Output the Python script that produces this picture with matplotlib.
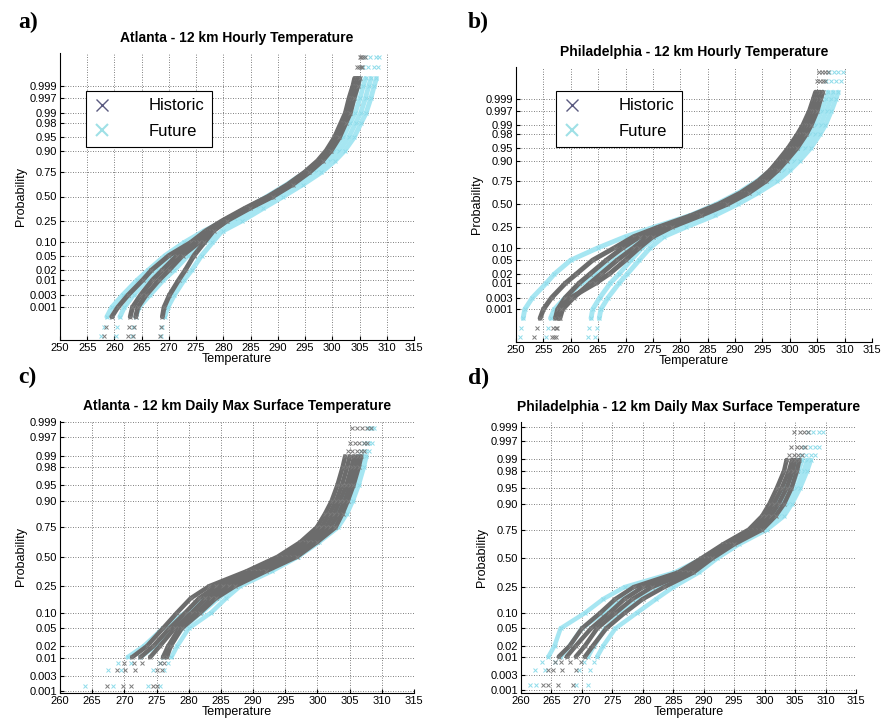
import statistics
import matplotlib
matplotlib.use("Agg")
import matplotlib.pyplot as plt
from matplotlib.lines import Line2D

# probability levels the curves were read at
P_HOURLY = [0.00005, 0.00014, 0.0004, 0.001, 0.003, 0.01, 0.02, 0.05, 0.10, 0.17, 0.25,
            0.37, 0.50, 0.63, 0.75, 0.84, 0.90, 0.95, 0.98, 0.99, 0.997, 0.999, 0.9995,
            0.99985, 0.99995]
P_DAILY = [0.0015, 0.0045, 0.0075, 0.0105, 0.02, 0.05, 0.10, 0.17, 0.25, 0.37, 0.50,
           0.63, 0.75, 0.84, 0.90, 0.95, 0.98, 0.9895, 0.9925, 0.9955, 0.9985]

prob_ticks = [0.001, 0.003, 0.01, 0.02, 0.05, 0.10, 0.25, 0.50, 0.75, 0.90,
              0.95, 0.98, 0.99, 0.997, 0.999]
prob_labels = ["0.001", "0.003", "0.01", "0.02", "0.05", "0.10", "0.25", "0.50",
               "0.75", "0.90", "0.95", "0.98", "0.99", "0.997", "0.999"]

# a) Atlanta hourly (temperature in K at P_HOURLY, one list per ensemble member)
atl_hr_hist = [
    [258.0, 258.5, 259.5, 260.6, 262.5, 265.2, 266.8, 270.0, 274.0, 276.8, 279.8, 283.9, 288.2, 291.8, 294.9, 297.3, 298.9, 300.4, 301.6, 302.4, 303.1, 303.8, 304.1, 304.6, 305.0],
    [262.4, 262.6, 262.9, 263.3, 264.8, 267.0, 268.8, 271.5, 275.0, 277.3, 280.1, 284.2, 288.5, 292.1, 295.2, 297.6, 299.2, 300.7, 301.9, 302.7, 303.4, 304.1, 304.4, 304.9, 305.3],
    [263.4, 263.6, 263.9, 264.3, 265.8, 268.2, 270.0, 272.5, 275.5, 277.7, 280.4, 284.5, 288.8, 292.4, 295.5, 297.9, 299.5, 301.0, 302.2, 303.0, 303.7, 304.4, 304.7, 305.2, 305.6],
    [268.3, 268.5, 268.8, 269.1, 270.1, 271.8, 273.0, 274.6, 276.5, 278.2, 280.7, 284.8, 289.1, 292.7, 295.8, 298.2, 299.8, 301.3, 302.5, 303.3, 304.0, 304.7, 305.0, 305.5, 306.0],
]
atl_hr_fut = [
    [257.5, 258.0, 258.6, 259.5, 261.5, 264.2, 266.2, 269.3, 272.8, 276.5, 280.3, 284.3, 288.0, 291.6, 295.0, 297.5, 299.3, 301.0, 302.3, 303.2, 304.1, 304.7, 305.1, 305.6, 306.0],
    [260.3, 260.5, 261.0, 261.8, 263.5, 266.0, 268.0, 271.0, 274.3, 277.5, 281.3, 285.3, 289.0, 292.6, 296.0, 298.5, 300.3, 302.0, 303.3, 304.2, 305.1, 305.7, 306.1, 306.6, 307.0],
    [268.6, 268.8, 269.2, 269.8, 271.0, 272.8, 274.2, 276.0, 278.0, 279.8, 282.5, 286.3, 290.0, 293.6, 297.0, 299.5, 301.3, 303.0, 304.3, 305.2, 306.1, 306.7, 307.1, 307.6, 308.0],
    [263.2, 263.4, 263.9, 264.5, 266.5, 269.0, 271.0, 273.5, 276.5, 280.0, 283.5, 287.3, 291.0, 294.6, 298.0, 300.5, 302.3, 304.0, 305.3, 306.2, 307.1, 307.7, 308.1, 308.4, 308.6],
]

# b) Philadelphia hourly
phl_hr_hist = [
    [253.3, 253.8, 254.4, 255.0, 256.5, 259.0, 261.0, 264.0, 268.0, 271.5, 276.0, 282.0, 287.0, 291.0, 294.2, 296.4, 297.9, 299.7, 301.4, 302.4, 303.6, 304.3, 304.7, 305.0, 305.3],
    [256.5, 256.8, 257.2, 257.6, 259.0, 261.5, 263.5, 266.5, 269.5, 272.6, 276.8, 282.6, 287.6, 291.5, 294.7, 296.9, 298.4, 300.3, 302.0, 302.9, 304.0, 304.7, 305.1, 305.5, 305.9],
    [257.3, 257.5, 258.0, 258.5, 260.5, 263.5, 265.5, 268.5, 271.5, 274.0, 277.6, 283.2, 288.1, 292.0, 295.2, 297.4, 298.9, 300.8, 302.5, 303.4, 304.5, 305.1, 305.5, 306.0, 306.4],
    [257.0, 257.3, 257.8, 258.2, 260.0, 264.5, 267.0, 270.0, 272.5, 275.0, 278.4, 283.8, 288.6, 292.5, 295.6, 297.8, 299.4, 301.3, 303.0, 303.9, 305.0, 305.6, 306.0, 306.5, 306.9],
]
phl_hr_fut = [
    [250.8, 251.0, 251.3, 251.6, 253.0, 255.5, 257.0, 260.0, 265.0, 270.0, 275.2, 281.8, 286.6, 290.6, 294.0, 296.6, 298.4, 300.6, 302.5, 303.6, 304.8, 305.6, 306.0, 306.6, 307.2],
    [255.5, 255.8, 256.3, 257.0, 259.0, 262.0, 264.5, 268.0, 271.0, 274.0, 277.8, 283.6, 288.3, 292.2, 295.5, 298.0, 299.8, 301.8, 303.6, 304.7, 305.8, 306.6, 307.0, 307.5, 308.0],
    [263.2, 263.4, 263.7, 264.0, 265.3, 267.2, 268.8, 271.0, 273.0, 275.6, 279.4, 285.0, 289.5, 293.3, 296.6, 299.0, 300.8, 302.8, 304.6, 305.6, 306.7, 307.5, 307.9, 308.4, 308.8],
    [264.5, 264.8, 265.2, 265.5, 266.8, 268.8, 270.3, 272.5, 274.5, 277.0, 281.0, 286.3, 290.5, 294.2, 297.6, 300.0, 301.8, 303.8, 305.5, 306.5, 307.6, 308.4, 308.8, 309.3, 309.7],
]

# c) Atlanta daily max (temperature in K at P_DAILY)
atl_dm_hist = [
    [267.3, 268.8, 270.0, 271.2, 273.5, 276.0, 278.2, 280.3, 283.2, 289.0, 293.8, 297.3, 299.9, 301.2, 302.2, 303.1, 303.9, 304.3, 304.7, 305.0, 305.3],
    [269.8, 270.1, 271.5, 272.5, 274.5, 277.0, 279.5, 281.6, 284.3, 289.8, 294.6, 298.0, 300.6, 301.9, 302.9, 303.8, 304.6, 305.0, 305.4, 305.8, 306.2],
    [271.0, 271.7, 272.8, 274.0, 275.5, 277.8, 280.5, 282.6, 285.3, 290.6, 295.4, 298.6, 301.3, 302.6, 303.5, 304.5, 305.3, 305.7, 306.1, 306.5, 306.9],
    [274.5, 275.0, 275.5, 276.0, 276.8, 278.5, 281.3, 283.5, 286.3, 291.3, 296.1, 299.3, 302.0, 303.3, 304.2, 305.1, 305.9, 306.3, 306.7, 307.2, 307.7],
    [275.0, 275.8, 276.2, 276.6, 277.2, 278.9, 281.8, 284.2, 287.2, 292.0, 296.8, 299.9, 302.8, 303.9, 304.7, 305.6, 306.4, 306.8, 307.2, 307.7, 308.3],
]
atl_dm_fut = [
    [263.9, 267.5, 269.0, 270.5, 273.0, 276.0, 279.5, 282.6, 285.6, 290.6, 295.2, 298.4, 301.4, 302.8, 303.9, 304.9, 305.9, 306.3, 306.8, 307.3, 307.8],
    [268.3, 269.5, 271.0, 272.5, 274.8, 277.5, 280.5, 283.4, 286.4, 291.4, 295.8, 299.0, 302.0, 303.4, 304.4, 305.4, 306.3, 306.7, 307.2, 307.7, 308.2],
    [273.7, 274.5, 275.5, 276.0, 277.0, 279.0, 282.0, 284.6, 287.2, 292.2, 296.4, 299.6, 302.6, 304.0, 305.0, 305.9, 306.8, 307.2, 307.6, 308.0, 308.5],
    [275.5, 276.2, 276.8, 277.3, 278.2, 280.0, 283.5, 285.8, 288.0, 292.9, 297.0, 300.2, 303.2, 304.6, 305.5, 306.4, 307.2, 307.6, 308.0, 308.4, 308.8],
]

# d) Philadelphia daily max
phl_dm_hist = [
    [263.6, 264.5, 265.5, 266.2, 268.0, 270.0, 273.0, 275.5, 278.5, 285.8, 289.6, 293.2, 297.4, 299.6, 300.8, 302.0, 303.2, 303.6, 304.0, 304.4, 304.8],
    [264.4, 265.2, 266.5, 267.5, 269.0, 271.5, 274.5, 277.0, 280.0, 286.6, 290.2, 293.8, 298.2, 300.3, 301.5, 302.8, 304.0, 304.5, 304.9, 305.3, 305.8],
    [266.0, 266.8, 268.0, 269.0, 270.5, 272.5, 275.5, 278.3, 281.5, 287.4, 290.8, 294.4, 298.9, 301.0, 302.3, 303.6, 304.6, 305.0, 305.4, 305.9, 306.4],
    [268.5, 269.0, 269.8, 270.5, 271.8, 274.0, 277.0, 280.0, 283.5, 288.3, 291.4, 295.0, 299.6, 301.8, 303.2, 304.4, 305.3, 305.7, 306.2, 306.7, 307.2],
]
phl_dm_fut = [
    [261.4, 262.3, 263.5, 264.5, 265.5, 266.5, 270.5, 273.5, 277.0, 285.2, 289.8, 293.4, 298.0, 300.8, 302.0, 303.5, 304.8, 305.4, 305.9, 306.5, 307.2],
    [262.5, 264.0, 265.5, 266.5, 268.0, 270.0, 273.5, 276.8, 280.0, 286.6, 290.6, 294.2, 298.8, 301.6, 303.0, 304.4, 305.6, 306.2, 306.8, 307.4, 308.0],
    [269.0, 269.6, 270.3, 271.0, 272.0, 273.8, 276.5, 279.5, 283.0, 288.0, 291.4, 295.0, 299.6, 302.4, 303.8, 305.2, 306.4, 307.0, 307.6, 308.3, 309.0],
    [271.0, 271.4, 272.0, 272.5, 273.5, 275.5, 279.0, 282.2, 285.0, 289.2, 292.2, 295.8, 300.4, 303.2, 304.5, 305.8, 307.0, 307.6, 308.3, 309.0, 309.5],
]

HIST_COL = "#6c6c6c"
FUT_COL = "#a6e6f2"

nd = statistics.NormalDist()


def probit(ps):
    return [nd.inv_cdf(p) for p in ps]


def draw(ax, hist, fut, probs, lo, hi, lw, ms):
    z = probit(probs)
    n = len(z)
    for group, col, mcol in [(fut, FUT_COL, "#8fdcea"), (hist, HIST_COL, "#7c7c7c")]:
        for temps in group:
            # body drawn as a thick band, the sparse tails as loose x markers
            ax.plot(temps[lo:n - hi], z[lo:n - hi], color=col, lw=lw,
                    solid_capstyle="round", solid_joinstyle="round", zorder=3)
            ax.plot(temps, z, ls="none", marker="x", color=mcol, ms=ms, mew=0.7, zorder=3)


def style(ax, title, xlim, xticks, ylim):
    ax.set_xlim(xlim)
    ax.set_ylim(ylim)
    ax.set_xticks(xticks)
    ax.set_yticks(probit(prob_ticks))
    ax.set_yticklabels(prob_labels)
    ax.grid(True, ls=(0, (1, 2)), color="#555555", lw=0.6, zorder=0)
    for s in ["top", "right"]:
        ax.spines[s].set_visible(False)
    ax.tick_params(direction="in", length=3, labelsize=8, pad=2)
    ax.set_xlabel("Temperature", fontsize=9, labelpad=0)
    ax.set_ylabel("Probability", fontsize=9, labelpad=2)
    ax.set_title(title, fontsize=10, fontweight="bold", pad=8)


plt.rcParams["font.family"] = ["Liberation Sans", "DejaVu Sans"]
fig = plt.figure(figsize=(8.86, 7.25), dpi=100)
W, H = 886, 725


def add_axes(l, r, t, b):
    return fig.add_axes([l / W, 1 - b / H, (r - l) / W, (b - t) / H])


ax_a = add_axes(60, 414, 53, 340)
ax_b = add_axes(516, 872, 67, 342)
ax_c = add_axes(60, 414, 421, 693)
ax_d = add_axes(521, 856, 422, 693)

draw(ax_a, atl_hr_hist, atl_hr_fut, P_HOURLY, 2, 2, 3.5, 3)
draw(ax_b, phl_hr_hist, phl_hr_fut, P_HOURLY, 2, 2, 3.5, 3)
draw(ax_c, atl_dm_hist, atl_dm_fut, P_DAILY, 3, 3, 3.2, 3)
draw(ax_d, phl_dm_hist, phl_dm_fut, P_DAILY, 3, 3, 3.2, 3)

hr_ticks = list(range(250, 316, 5))
dm_ticks = list(range(260, 316, 5))
style(ax_a, "Atlanta - 12 km Hourly Temperature", (250, 315), hr_ticks, (-4.0, 4.0))
style(ax_b, "Philadelphia - 12 km Hourly Temperature", (250, 315), hr_ticks, (-4.05, 4.03))
style(ax_c, "Atlanta - 12 km Daily Max Surface Temperature", (260, 315), dm_ticks, (-3.13, 3.12))
style(ax_d, "Philadelphia - 12 km Daily Max Surface Temperature", (260, 315), dm_ticks, (-3.16, 3.2))

handles = [Line2D([], [], ls="none", marker="x", color="#5a5a80", ms=9, mew=1.0),
           Line2D([], [], ls="none", marker="x", color="#9fe0e6", ms=9, mew=1.5)]
for ax, anchor in [(ax_a, (0.073, 0.868)), (ax_b, (0.112, 0.913))]:
    leg = ax.legend(handles, ["Historic", "Future"], loc="upper left", bbox_to_anchor=anchor,
                    borderaxespad=0, fontsize=12, fancybox=False, framealpha=1,
                    edgecolor="black", handlelength=1.0, handletextpad=2.3,
                    labelspacing=0.65, borderpad=0.45)
    leg.get_frame().set_linewidth(0.8)
    leg.set_zorder(5)

for lab, x, y in [("a)", 18, 28), ("b)", 468, 28), ("c)", 18, 383), ("d)", 468, 384)]:
    fig.text(x / W, 1 - y / H, lab, fontsize=17, fontweight="bold", family="Liberation Serif")

fig.savefig("out.png", dpi=100)
